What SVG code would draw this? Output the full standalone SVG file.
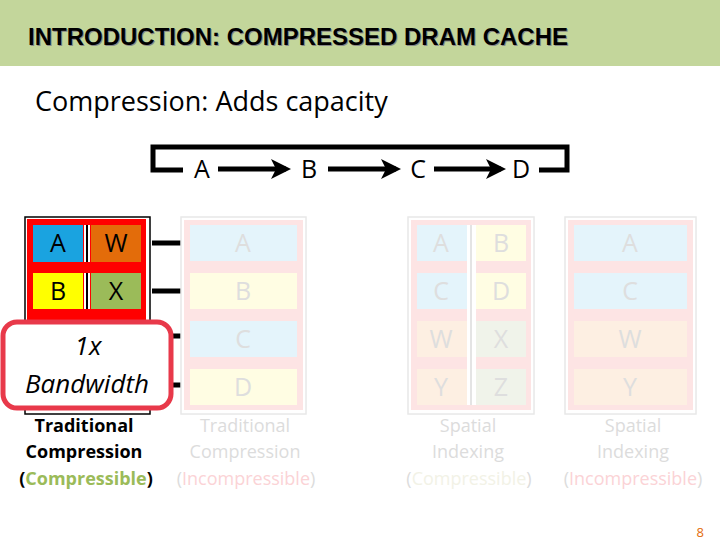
<svg xmlns="http://www.w3.org/2000/svg" width="720" height="540" viewBox="0 0 720 540">
<defs>
<marker id="ah" markerWidth="4" markerHeight="4" refX="3" refY="2" orient="auto" markerUnits="strokeWidth"><path d="M0,0 L4,2 L0,4 L1,2 Z" fill="#000"/></marker>
<style>
text{font-family:"Open Sans","Noto Sans","Liberation Sans",sans-serif}
.big{font-size:25px;text-anchor:middle}
.cap{font-size:18px;text-anchor:middle;font-weight:bold}
.fcap{font-size:18px;text-anchor:middle;fill:#dcdcdc}
.ft{font-size:25px;text-anchor:middle;fill:#dedede}
.panel{fill:#fde4e4}
.frame{fill:#fff;stroke:#e8e8e8;stroke-width:1.5}
.fb{fill:#e4f4fb}.fy{fill:#fffde3}.fo{fill:#fdefe2}.fg{fill:#f0f3ea}
.conn{stroke:#000;stroke-width:5;fill:none}
</style>
</defs>
<rect width="720" height="540" fill="#fff"/>
<rect x="0" y="0" width="720" height="66" fill="#c3d69b"/>
<text x="29" y="46" font-size="24" font-weight="bold" fill="#888" style="font-family:'Liberation Sans',sans-serif">INTRODUCTION: COMPRESSED DRAM CACHE</text>
<text x="28" y="45" font-size="24" font-weight="bold" fill="#000" style="font-family:'Liberation Sans',sans-serif">INTRODUCTION: COMPRESSED DRAM CACHE</text>
<text x="35" y="111" font-size="27">Compression: Adds capacity</text>

<g id="connectors">
<path class="conn" d="M183,170 H153 V147 H567 V170 H539" stroke-width="6"/>
<line class="conn" x1="218" y1="169" x2="286" y2="169" marker-end="url(#ah)"/>
<line class="conn" x1="328" y1="169" x2="396" y2="169" marker-end="url(#ah)"/>
<line class="conn" x1="434" y1="169" x2="501" y2="169" marker-end="url(#ah)"/>
<line class="conn" x1="152" y1="243" x2="199" y2="243" marker-end="url(#ah)"/>
<line class="conn" x1="152" y1="291" x2="199" y2="291" marker-end="url(#ah)"/>
<line class="conn" x1="152" y1="336" x2="199" y2="336" marker-end="url(#ah)"/>
<line class="conn" x1="152" y1="385" x2="199" y2="385" marker-end="url(#ah)"/>
</g>
<g id="seq">
<text class="big" x="202" y="178">A</text>
<text class="big" x="309" y="178">B</text>
<text class="big" x="418" y="178">C</text>
<text class="big" x="521" y="178">D</text>
</g>

<g id="trad-comp">
<rect x="25" y="217" width="125" height="197" fill="#fff" stroke="#000" stroke-width="1.5"/>
<rect x="27" y="219" width="119" height="110" fill="#ff0000"/>
<rect x="33" y="225" width="50" height="37" fill="#1aa3e0"/>
<rect x="91" y="225" width="50" height="37" fill="#e36c0a"/>
<rect x="33" y="273" width="50" height="36" fill="#ffff00"/>
<rect x="91" y="273" width="50" height="36" fill="#9bbb59"/>
<rect x="84" y="225" width="6" height="37" fill="#fff"/><rect x="86" y="225" width="2" height="37" fill="#000"/>
<rect x="84" y="273" width="6" height="36" fill="#fff"/><rect x="86" y="273" width="2" height="36" fill="#000"/>
<text class="big" x="58" y="252">A</text><text class="big" x="116" y="252">W</text>
<text class="big" x="58" y="300">B</text><text class="big" x="116" y="300">X</text>
<text class="cap" x="84" y="432">Traditional</text>
<text class="cap" x="84" y="458">Compression</text>
<text class="cap" x="86" y="485">(<tspan fill="#9bbb59">Compressible</tspan>)</text>
</g>
<g id="bandwidth">
<rect x="3" y="322" width="168" height="86" rx="14" fill="#fff" stroke="#e8394a" stroke-width="5"/>
<text x="88" y="355" font-size="26" font-style="italic" text-anchor="middle">1x</text>
<text x="87" y="393" font-size="26" font-style="italic" text-anchor="middle">Bandwidth</text>
</g>

<g id="trad-incomp">
<rect class="frame" x="181" y="217" width="125" height="197"/>
<rect class="panel" x="184" y="220" width="119" height="190"/>
<rect class="fb" x="190" y="225" width="107" height="36"/>
<rect class="fy" x="190" y="273" width="107" height="36"/>
<rect class="fb" x="190" y="321" width="107" height="36"/>
<rect class="fy" x="190" y="369" width="107" height="36"/>
<text class="ft" x="243" y="252">A</text><text class="ft" x="243" y="300">B</text>
<text class="ft" x="243" y="348">C</text><text class="ft" x="243" y="396">D</text>
<text class="fcap" x="245" y="432">Traditional</text>
<text class="fcap" x="245" y="458">Compression</text>
<text class="fcap" x="246" y="485">(<tspan fill="#fbd3d6">Incompressible</tspan>)</text>
</g>

<g id="spatial-comp">
<rect class="frame" x="408" y="217" width="126" height="197"/>
<rect class="panel" x="411" y="220" width="120" height="190"/>
<rect class="fb" x="417" y="225" width="50" height="36"/><rect class="fy" x="476" y="225" width="50" height="36"/>
<rect class="fb" x="417" y="273" width="50" height="36"/><rect class="fy" x="476" y="273" width="50" height="36"/>
<rect class="fo" x="417" y="321" width="50" height="36"/><rect class="fg" x="476" y="321" width="50" height="36"/>
<rect class="fo" x="417" y="369" width="50" height="36"/><rect class="fg" x="476" y="369" width="50" height="36"/>
<rect x="467" y="225" width="9" height="180" fill="#fff"/><rect x="470" y="225" width="2" height="180" fill="#e4e4e4"/>
<text class="ft" x="441" y="252">A</text><text class="ft" x="501" y="252">B</text>
<text class="ft" x="441" y="300">C</text><text class="ft" x="501" y="300">D</text>
<text class="ft" x="441" y="348">W</text><text class="ft" x="501" y="348">X</text>
<text class="ft" x="441" y="396">Y</text><text class="ft" x="501" y="396">Z</text>
<text class="fcap" x="468" y="432">Spatial</text>
<text class="fcap" x="468" y="458">Indexing</text>
<text class="fcap" x="469" y="485">(<tspan fill="#f2f2e6">Compressible</tspan>)</text>
</g>

<g id="spatial-incomp">
<rect class="frame" x="565" y="217" width="131" height="197"/>
<rect class="panel" x="568" y="220" width="125" height="190"/>
<rect class="fb" x="574" y="225" width="113" height="36"/>
<rect class="fb" x="574" y="273" width="113" height="36"/>
<rect class="fo" x="574" y="321" width="113" height="36"/>
<rect class="fo" x="574" y="369" width="113" height="36"/>
<text class="ft" x="630" y="252">A</text><text class="ft" x="630" y="300">C</text>
<text class="ft" x="630" y="348">W</text><text class="ft" x="630" y="396">Y</text>
<text class="fcap" x="633" y="432">Spatial</text>
<text class="fcap" x="633" y="458">Indexing</text>
<text class="fcap" x="633" y="485">(<tspan fill="#fbd3d6">Incompressible</tspan>)</text>
</g>
<text x="704" y="537" font-size="13" fill="#e36c0a" text-anchor="end">8</text>
</svg>
